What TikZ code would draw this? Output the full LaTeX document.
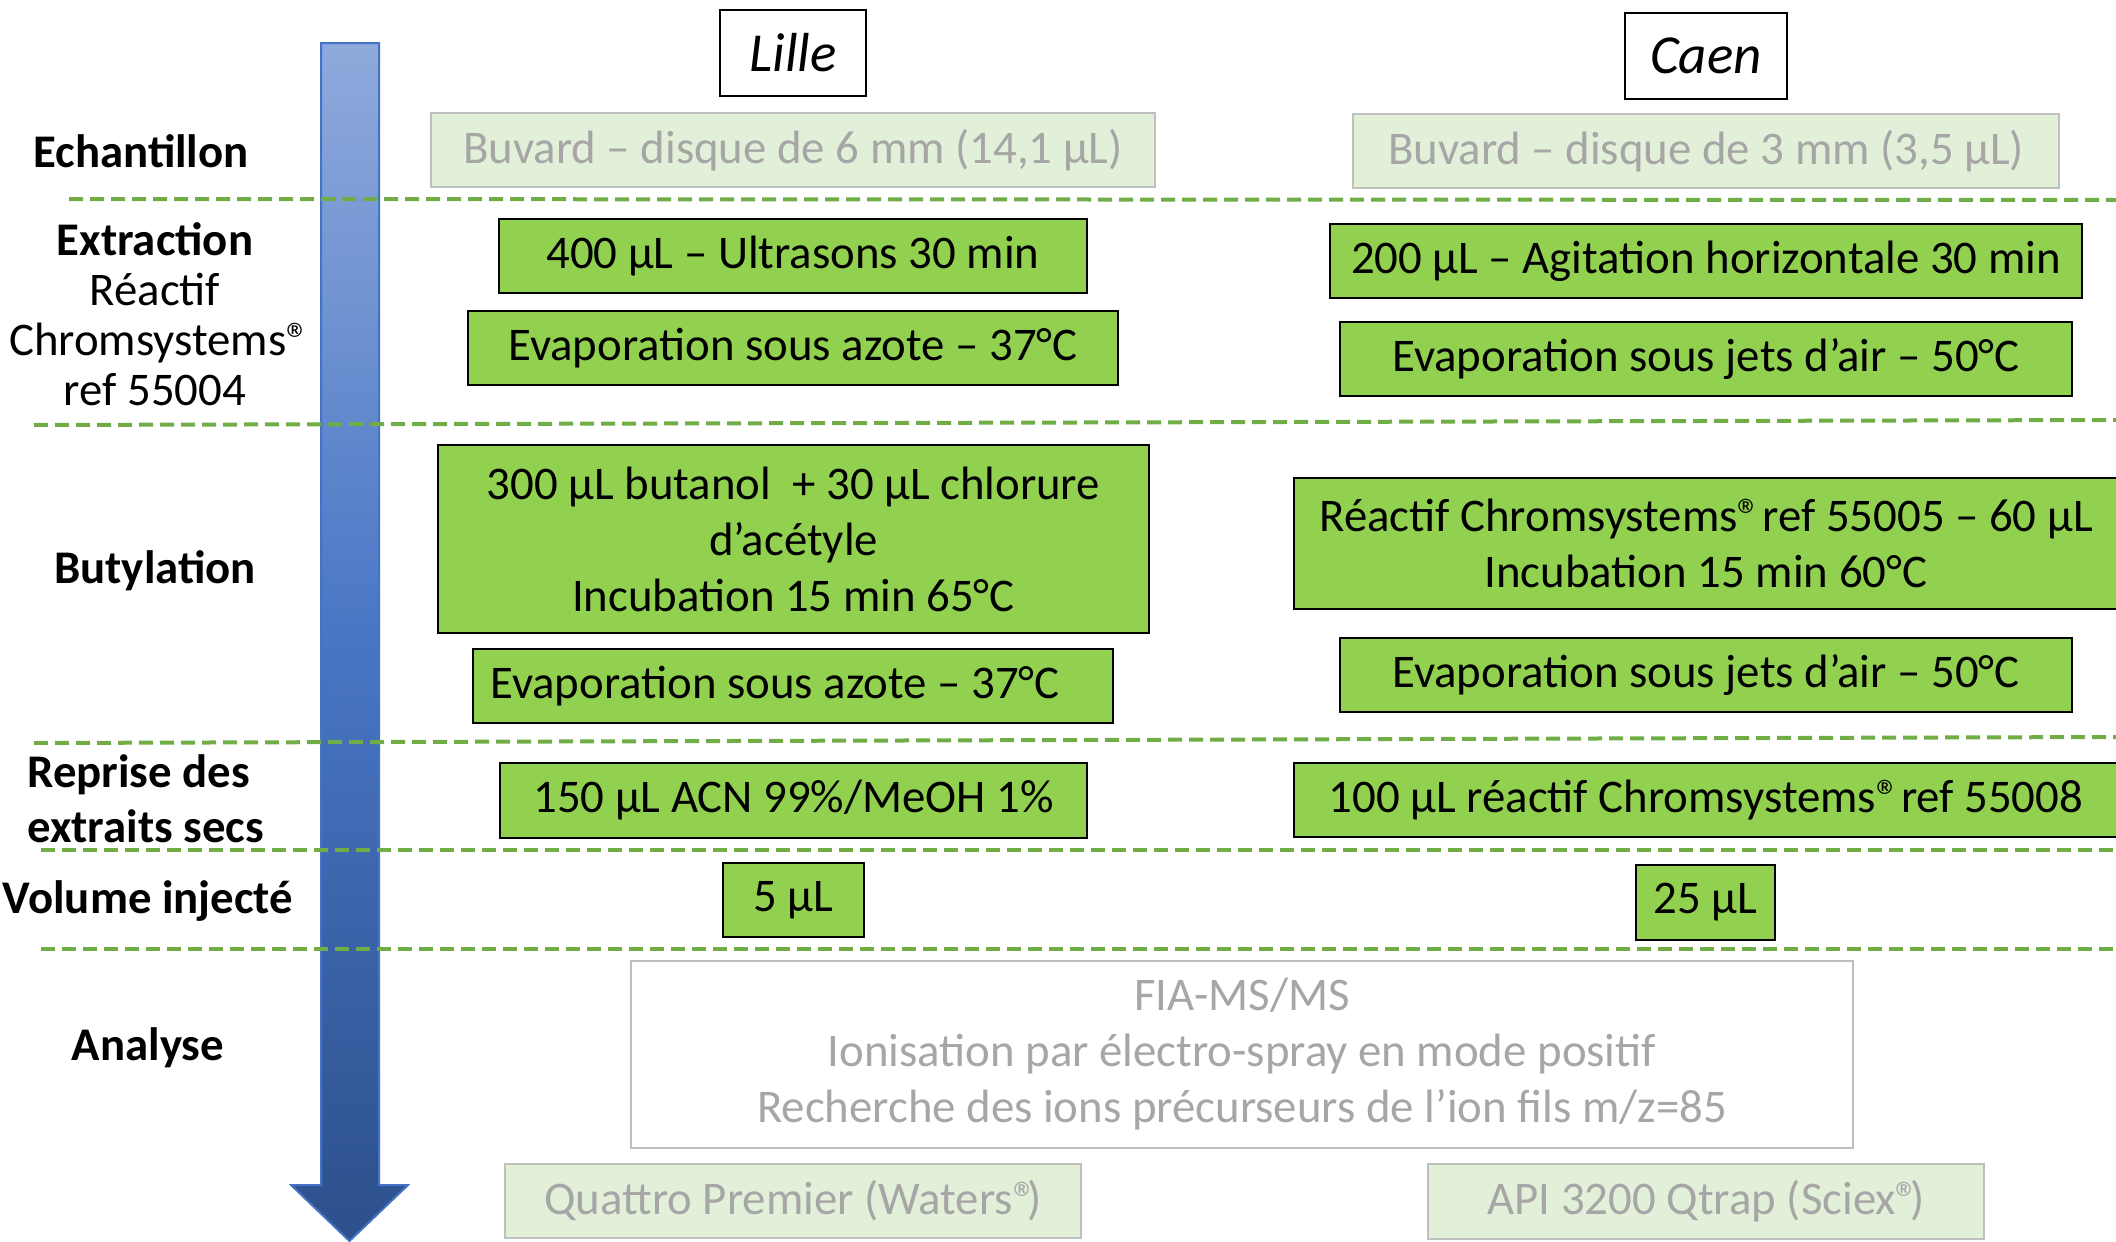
\documentclass[tikz,border=0pt]{standalone}
\usepackage{fontspec}
\setmainfont{Carlito}
\usepackage{tikz}
\usetikzlibrary{positioning}
\definecolor{leaf}{RGB}{146,208,80}
\definecolor{paleleaf}{RGB}{226,240,217}
\definecolor{fog}{RGB}{166,166,166}
\definecolor{rim}{RGB}{191,191,191}
\definecolor{grass}{RGB}{112,173,71}
\definecolor{skytop}{RGB}{143,170,220}
\definecolor{skymid}{RGB}{72,117,196}
\definecolor{skybot}{RGB}{45,80,140}
\definecolor{skyrim}{RGB}{68,114,196}
\newcommand\bodyfont{\fontsize{23.4}{28}\selectfont}
\newcommand\reg{®\kern-0.2em}
\tikzset{
  boxsize/.style 2 args = {minimum width=#1*0.5pt, minimum height=#2*0.5pt},
  stepbox/.style  = {draw=black, fill=leaf, line width=1pt, inner sep=0pt,
                     align=center, font=\bodyfont, text=black},
  inputbox/.style = {draw=rim, fill=paleleaf, line width=1pt, inner sep=0pt,
                     align=center, font=\bodyfont, text=fog},
  methodbox/.style= {draw=rim, fill=white, line width=1pt, inner sep=0pt,
                     align=center, font=\bodyfont, text=fog},
  sitebox/.style  = {draw=black, fill=white, line width=1pt, inner sep=0pt,
                     font=\fontsize{27.5}{32}\selectfont\itshape},
  stage/.style    = {align=center, inner sep=0pt, font=\bodyfont\bfseries},
  divider/.style  = {draw=grass, line width=2pt, dash pattern=on 7pt off 3.5pt},
}

\begin{document}
\begin{tikzpicture}[x={(0.5pt,0pt)}, y={(0pt,-0.5pt)}]
\useasboundingbox (0,0) rectangle (2116,1242);
% time arrow
\path[top color=skytop, bottom color=skybot, middle color=skymid, draw=skyrim, line width=1pt]
  (321,43) -- (379,43) -- (379,1185) -- (408,1185) -- (349.5,1241)
  -- (291,1185) -- (321,1185) -- cycle;
% sites
\node[sitebox, boxsize={146}{86}] (lille) at (793,53) {Lille};
\node[sitebox, boxsize={162}{86}] (caen) at (1706,56) {Caen};
% stages
\node[stage] (echant) at (141,151) {Echantillon};
\node[stage, font=\fontsize{23.4}{25}\selectfont] (extract) at (155,314)
  {\textbf{Extraction}\\Réactif\\Chromsystems\reg\\ref 55004};
\node[stage] (butyl) at (155,571) {Butylation};
\node[stage, align=left, anchor=west, font=\fontsize{23.4}{27.5}\selectfont\bfseries] (reprise) at (27,799)
  {Reprise des\\extraits secs};
\node[stage] (volume) at (148,901) {Volume injecté};
\node[stage] (analyse) at (148,1048) {Analyse};
% Lille
\node[inputbox, boxsize={724}{74}] (l-buvard) at (793,150) {Buvard -- disque de 6 mm (14,1 µL)};
\node[stepbox, boxsize={588}{74}] (l-ultra) at (793,256) {400 µL -- Ultrasons 30 min};
\node[stepbox, boxsize={650}{74}] (l-evap1) at (793,348) {Evaporation sous azote -- 37°C};
\node[stepbox, boxsize={711}{188}] (l-butyl) at (793.5,539)
  {300 µL butanol~ + 30 µL chlorure\\d’acétyle\\Incubation 15 min 65°C};
\node[stepbox, boxsize={640}{74}] (l-evap2) at (793,686) {Evaporation sous azote -- 37°C\hspace*{18pt}};
\node[stepbox, boxsize={587}{75}] (l-reprise) at (793.5,800.5) {150 µL ACN 99\%/MeOH 1\%};
\node[stepbox, boxsize={141}{74}] (l-vol) at (793.5,900) {5 µL};
\node[inputbox, boxsize={576}{74}] (l-ms) at (793,1201) {Quattro Premier (Waters\reg)};
% Caen
\node[inputbox, boxsize={706}{74}] (c-buvard) at (1706,151) {Buvard -- disque de 3 mm (3,5 µL)};
\node[stepbox, boxsize={752}{74}] (c-agit) at (1706,261) {200 µL -- Agitation horizontale 30 min};
\node[stepbox, boxsize={732}{74}] (c-evap1) at (1706,359) {Evaporation sous jets d’air -- 50°C};
\node[stepbox, boxsize={824}{131}] (c-butyl) at (1706,543.5)
  {Réactif Chromsystems\reg{} ref 55005 -- 60 µL\\Incubation 15 min 60°C};
\node[stepbox, boxsize={732}{74}] (c-evap2) at (1706,675) {Evaporation sous jets d’air -- 50°C};
\node[stepbox, boxsize={824}{74}] (c-reprise) at (1706,800) {100 µL réactif Chromsystems\reg{} ref 55008};
\node[stepbox, boxsize={139}{75}] (c-vol) at (1705.5,902.5) {25 µL};
\node[inputbox, boxsize={556}{75}] (c-ms) at (1706,1201.5) {API 3200 Qtrap (Sciex\reg)};
% common
\node[methodbox, boxsize={1222}{187}] (fia) at (1242,1054.5)
  {FIA-MS/MS\\Ionisation par électro-spray en mode positif\\Recherche des ions précurseurs de l’ion fils m/z=85};
% dividers
\draw[divider] (69,199) -- (2116,200);
\draw[divider] (34,425) -- (2116,420);
\draw[divider] (34,743) -- (2116,737);
\draw[divider] (41,850) -- (2116,850);
\draw[divider] (41,949) -- (2116,949);
\end{tikzpicture}
\end{document}
